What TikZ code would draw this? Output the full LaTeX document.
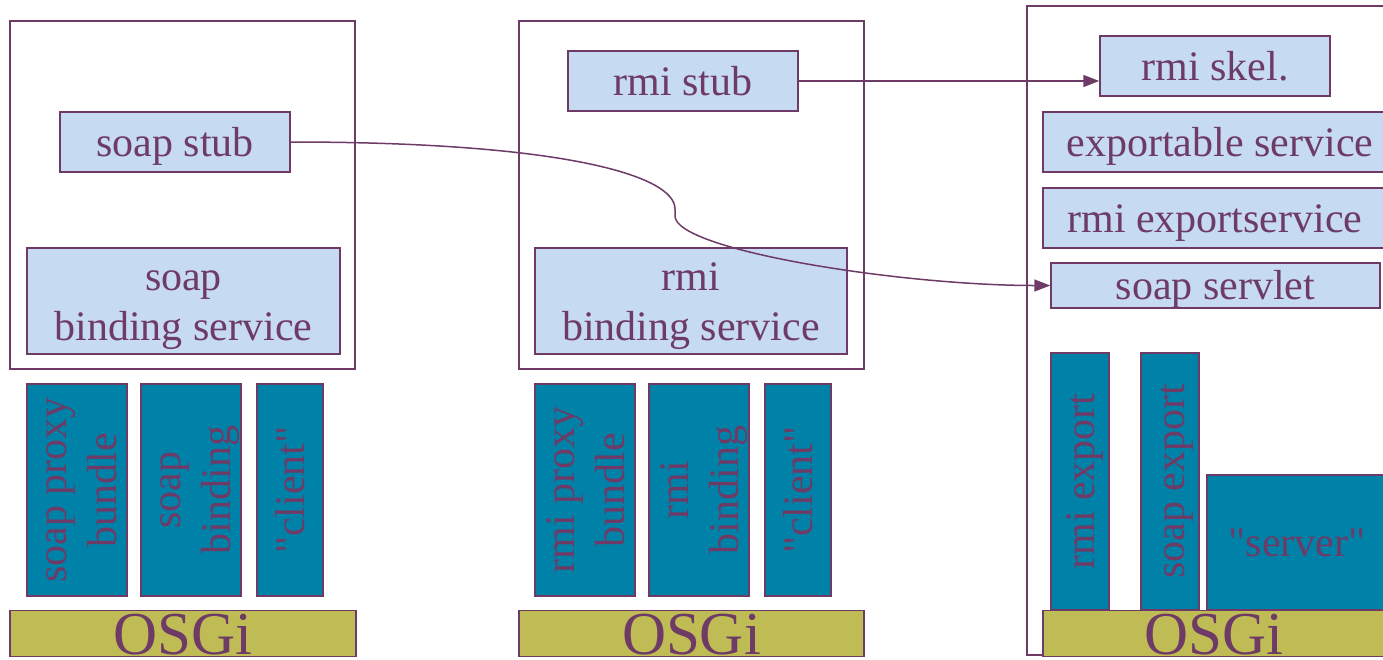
\documentclass[tikz,border=0pt]{standalone}
\usepackage{fontspec}
\setmainfont{Liberation Serif}
\usetikzlibrary{arrows.meta}
\definecolor{plum}{HTML}{6E3B66}
\definecolor{paleblue}{HTML}{C6DAF1}
\definecolor{bundleteal}{HTML}{0082A8}
\definecolor{osgiolive}{HTML}{BFBC55}
% full line box of the 42pt face: ascent .891em, descent .216em
\newcommand\ascstrut{\rule{0pt}{37.4pt}}
\newcommand\descstrut{\rule[-9.1pt]{0pt}{9.1pt}}
\tikzset{
  linebox/.style={execute at begin node={\ascstrut}, execute at end node={\descstrut}},
  frame/.style={draw=plum, line width=1.5pt, fill=white, inner sep=0pt},
  svc/.style={draw=plum, line width=1.5pt, fill=paleblue, text=plum, inner sep=0pt,
    align=center, font=\fontsize{42}{50}\selectfont, linebox},
  bundle/.style={draw=plum, line width=1.5pt, fill=bundleteal, text=plum, inner sep=0pt,
    align=center, font=\fontsize{42}{50}\selectfont, linebox},
  % the large label sits low and runs over the bar's lower edge
  osgi/.style={draw=plum, line width=1.5pt, fill=osgiolive, text=plum, inner sep=0pt,
    font=\fontsize{61}{61}\selectfont, text height=43.4pt, text depth=2.2pt},
  link/.style={draw=plum, line width=1.5pt, -{Triangle[length=16pt,width=12pt]}}
}
\begin{document}
\begin{tikzpicture}[x=1pt,y=-1pt]
\path[use as bounding box] (0,0) rectangle (1383,659);
\clip (0,0) rectangle (1383,659);

% client side, soap
\node[frame, minimum width=345pt, minimum height=348pt] (leftframe) at (182.5,195) {};
\node[svc, minimum width=230pt, minimum height=60pt] (soapstub) at (175,142) {soap stub};
\node[svc, minimum width=313pt, minimum height=106pt] (soapbind) at (183.5,301) {\ascstrut soap\\binding service\descstrut};
\node[bundle, rotate=90, minimum width=212pt, minimum height=100pt] (soapproxy) at (77,490) {\ascstrut soap proxy\\bundle\descstrut};
\node[bundle, rotate=90, minimum width=212pt, minimum height=100pt] (soapbinding) at (191,490) {\ascstrut soap\\binding\descstrut};
\node[bundle, rotate=90, minimum width=212pt, minimum height=66pt] (clientA) at (290,490) {\textquotedbl client\textquotedbl};
\node[osgi, minimum width=346pt, minimum height=46pt] (osgiA) at (183,633.5) {OSGi};

% client side, rmi
\node[frame, minimum width=345pt, minimum height=348pt] (midframe) at (691.5,195) {};
\node[svc, minimum width=230pt, minimum height=60pt] (rmistub) at (683,81) {rmi stub};
\node[svc, minimum width=312pt, minimum height=106pt] (rmibind) at (691,301) {\ascstrut rmi\\binding service\descstrut};
\node[bundle, rotate=90, minimum width=212pt, minimum height=100pt] (rmiproxy) at (585,490) {\ascstrut rmi proxy\\bundle\descstrut};
\node[bundle, rotate=90, minimum width=212pt, minimum height=100pt] (rmibinding) at (699,490) {\ascstrut rmi\\binding\descstrut};
\node[bundle, rotate=90, minimum width=212pt, minimum height=66pt] (clientB) at (798,490) {\textquotedbl client\textquotedbl};
\node[osgi, minimum width=345pt, minimum height=46pt] (osgiB) at (691.5,633.5) {OSGi};

% server side
\node[frame, minimum width=373pt, minimum height=649pt] (rightframe) at (1213.5,330.5) {};
\node[svc, minimum width=230pt, minimum height=60pt] (rmiskel) at (1215,66) {rmi skel.};
\node[svc, minimum width=354pt, minimum height=60pt] (exportable) at (1220,142) {exportable service};
\node[svc, minimum width=344pt, minimum height=60pt] (rmiexportsvc) at (1215,218) {rmi exportservice};
\node[svc, minimum width=329pt, minimum height=45pt, text height=36pt, text depth=7.6pt] (soapservlet) at (1215.5,285.5) {soap servlet};
\node[bundle, rotate=90, minimum width=257pt, minimum height=58pt] (rmiexport) at (1080,481.5) {rmi export};
\node[bundle, rotate=90, minimum width=257pt, minimum height=58pt] (soapexport) at (1170,481.5) {soap export};
\node[bundle, minimum width=180pt, minimum height=135pt] (server) at (1297,542.5) {\textquotedbl server\textquotedbl};
\node[osgi, minimum width=342pt, minimum height=46pt] (osgiC) at (1214,633.5) {OSGi};

% calls from stubs to the server side
\draw[link] (rmistub.east) -- (rmistub.east -| rmiskel.west);
\coordinate (bendtop) at (675,209);
\coordinate (bendbot) at (675,216);
\draw[link] (soapstub.east) .. controls +(270,0) and +(0,-34) .. (bendtop)
  -- (bendbot) .. controls +(0,34) and +(-150,0) .. (soapservlet.west);
\end{tikzpicture}
\end{document}
